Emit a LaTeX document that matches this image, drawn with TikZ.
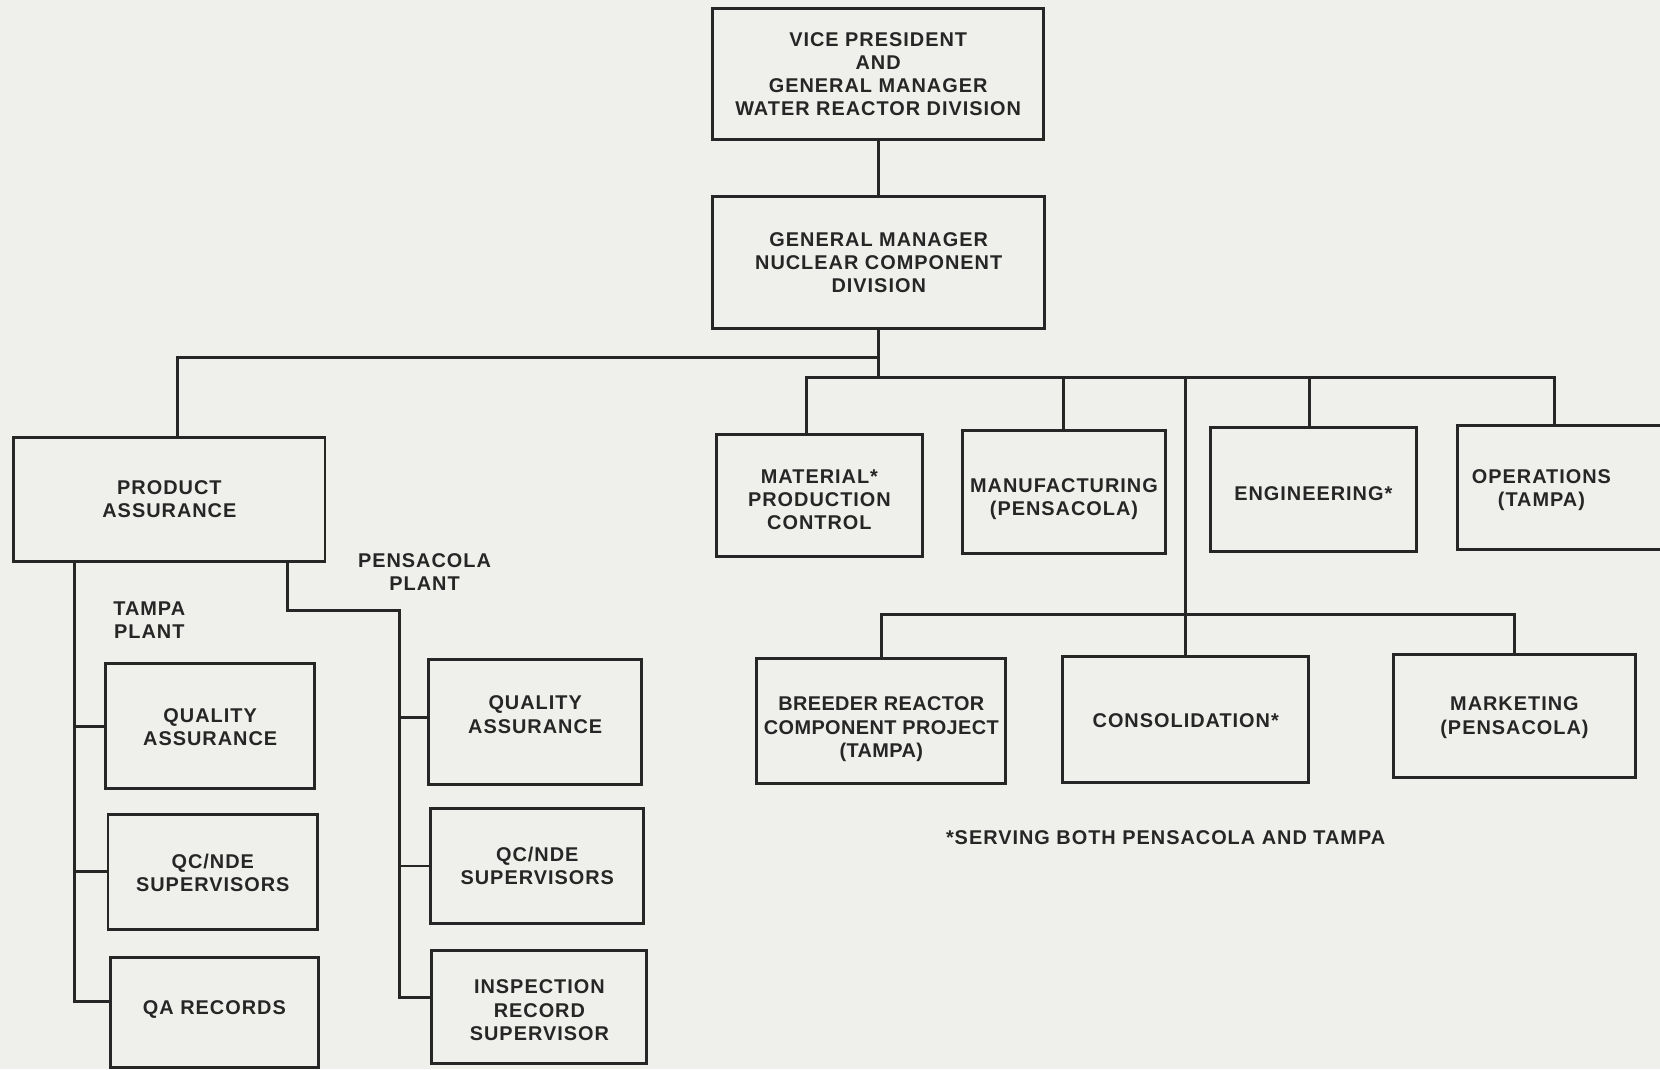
\documentclass[tikz,border=0pt]{standalone}
\usepackage{fontspec}
\setmainfont{Liberation Sans}[LetterSpace=5]
\definecolor{paper}{HTML}{EFEFEC}
\definecolor{ink}{HTML}{262626}
\newcommand{\shifted}[2]{\raisebox{#1}[\height][\depth]{\begin{tabular}{@{}c@{}}#2\end{tabular}}}
\begin{document}
\begin{tikzpicture}[x=0.5pt,y=-0.5pt,
  box/.style={draw=ink, line width=1.4pt, fill=none, inner sep=0pt, outer sep=0pt,
    align=center, text=ink, font=\fontsize{9.4}{11}\selectfont\bfseries},
  txt/.style={inner sep=0pt, align=center, text=ink, font=\fontsize{9.4}{11}\selectfont\bfseries},
  conn/.style={draw=ink, line width=1.4pt}]
\fill[paper] (0,0) rectangle (1568,1010);
\useasboundingbox (0,0) rectangle (1568,1010);

% top levels
\node[box, minimum width=156.5pt, minimum height=62pt] (vp) at (829.5,70)
  {VICE PRESIDENT\\AND\\GENERAL MANAGER\\WATER REACTOR DIVISION};
\node[box, minimum width=157pt, minimum height=62pt] (gm) at (830,248)
  {GENERAL MANAGER\\NUCLEAR COMPONENT\\DIVISION};

% second row
\node[box, minimum width=147pt, minimum height=58.5pt] (pa) at (160,471.5)
  {PRODUCT\\ASSURANCE};
\node[box, minimum width=97pt, minimum height=58pt] (mat) at (774,468)
  {\shifted{-3pt}{MATERIAL*\\PRODUCTION\\CONTROL}};
\node[box, minimum width=96pt, minimum height=58pt] (man) at (1005,465)
  {\shifted{-3.5pt}{MANUFACTURING\\(PENSACOLA)}};
\node[box, minimum width=97.5pt, minimum height=58.5pt] (eng) at (1240.5,462.5)
  {\shifted{-3pt}{ENGINEERING*}};
\node[box, minimum width=101.5pt, minimum height=58.5pt] (ops) at (1478.5,460.5) {};
\node[txt] (opst) at (1456,463) {OPERATIONS\\(TAMPA)};

% third row (right)
\node[box, minimum width=117.5pt, minimum height=59pt] (brd) at (832.5,681)
  {\addfontfeature{LetterSpace=2}\shifted{-4pt}{BREEDER REACTOR\\COMPONENT PROJECT\\(TAMPA)}};
\node[box, minimum width=116pt, minimum height=59.5pt] (cons) at (1120,679.5)
  {\shifted{-1.5pt}{CONSOLIDATION*}};
\node[box, minimum width=114.5pt, minimum height=58pt] (mkt) at (1430.5,676)
  {\shifted{-1pt}{MARKETING\\(PENSACOLA)}};
\node[txt] (note) at (1101,791) {*SERVING BOTH PENSACOLA AND TAMPA};

% plant labels
\node[txt] (tpl) at (141,585.5) {TAMPA\\PLANT};
\node[txt] (ppl) at (401,540.5) {PENSACOLA\\PLANT};

% Tampa boxes
\node[box, minimum width=98.5pt, minimum height=59pt] (tqa) at (198.5,686)
  {\shifted{-1.5pt}{QUALITY\\ASSURANCE}};
\node[box, minimum width=99pt, minimum height=54.5pt] (tqc) at (201,823.5)
  {\shifted{-1.5pt}{QC/NDE\\SUPERVISORS}};
\node[box, minimum width=98.5pt, minimum height=52pt] (trec) at (202.5,956)
  {\shifted{1pt}{QA RECORDS}};

% Pensacola boxes
\node[box, minimum width=100.5pt, minimum height=59pt] (pqa) at (505.5,682)
  {\shifted{2.5pt}{QUALITY\\ASSURANCE}};
\node[box, minimum width=100.5pt, minimum height=54pt] (pqc) at (507.5,818)
  {\shifted{-1pt}{QC/NDE\\SUPERVISORS}};
\node[box, minimum width=101.5pt, minimum height=53.5pt] (pins) at (509.5,951.5)
  {\shifted{-2.5pt}{INSPECTION\\RECORD\\SUPERVISOR}};

% helper coordinates
\coordinate (jL) at (830,338);
\coordinate (jR) at (830,357);
\coordinate (bR1) at (762,357);
\coordinate (bR2) at (1468,357);
\coordinate (t1) at (1120,357);
\coordinate (t2) at (1120,580);
\coordinate (ta) at (70,0);
\coordinate (pb) at (272,0);
\coordinate (pc) at (377,577);

% connectors
\draw[conn] (vp.south) -- (vp.south |- gm.north);
\draw[conn] (gm.south) -- (jR);
\draw[conn] (jL) -| ([xshift=4pt]pa.north);
\draw[conn] (bR1 |- mat.north) -- (bR1) -- (bR2) -- (bR2 |- ops.north);
\draw[conn] (man.north) -- (man.north |- jR);
\draw[conn] ([xshift=-2pt]eng.north) -- ([xshift=-2pt]eng.north |- jR);
\draw[conn] (t1) -- (cons.north);
\draw[conn] (brd.north) |- (t2) -| (mkt.north);

\draw[conn] (pa.south -| ta) |- ([yshift=5pt]trec.west);
\draw[conn] (tqa.west -| ta) -- (tqa.west);
\draw[conn] (tqc.west -| ta) -- (tqc.west);

\draw[conn] (pa.south -| pb) |- (pc) |- ([yshift=4.75pt]pins.west);
\draw[conn] ([yshift=2pt]pqa.west -| pc) -- ([yshift=2pt]pqa.west);
\draw[conn] (pqc.west -| pc) -- (pqc.west);
\end{tikzpicture}
\end{document}
